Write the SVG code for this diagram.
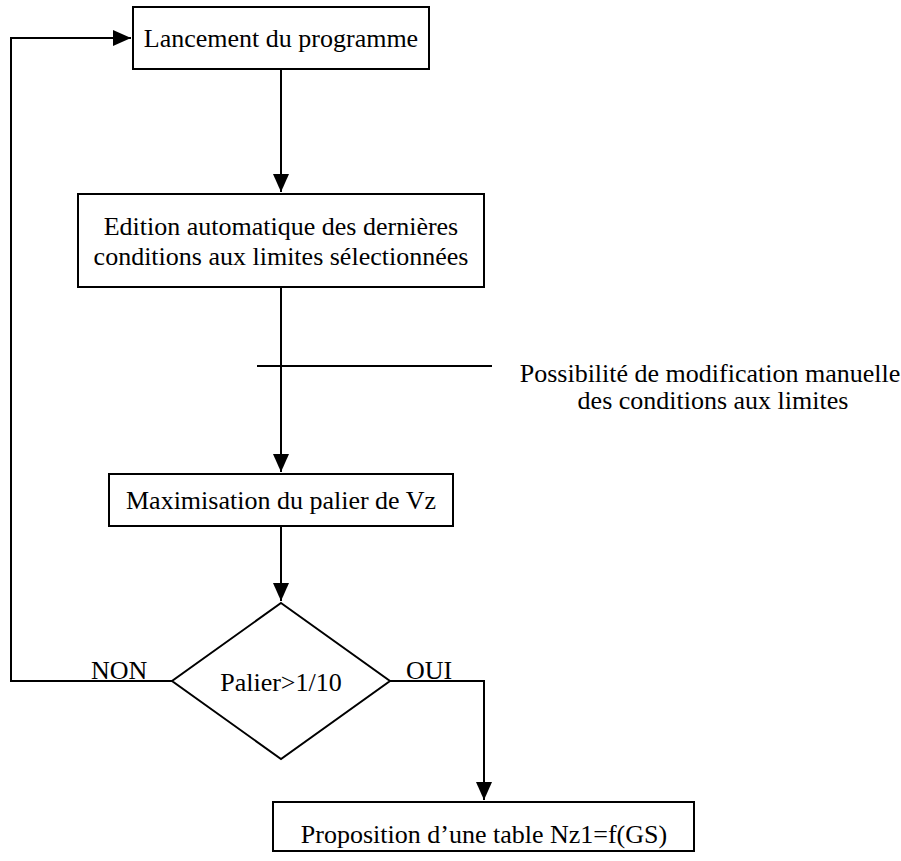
<svg xmlns="http://www.w3.org/2000/svg" width="901" height="861" viewBox="0 0 901 861">
<style>
  .box { fill: #fff; stroke: #000; stroke-width: 2; }
  .ln { fill: none; stroke: #000; stroke-width: 2; }
  text { font-family: "Liberation Serif", "Times New Roman", serif; font-size: 26px; fill: #000; }
  .c { text-anchor: middle; }
</style>
<defs>
  <marker id="arr" markerWidth="10" markerHeight="10" refX="9" refY="4" orient="auto" markerUnits="strokeWidth">
    <path d="M0,0 L9,4 L0,8 Z" fill="#000"/>
  </marker>
</defs>
<g id="connectors">
  <path class="ln" d="M172,681 H11 V38 H131" marker-end="url(#arr)"/>
  <path class="ln" d="M281,69 V192" marker-end="url(#arr)"/>
  <path class="ln" d="M281,287 V472" marker-end="url(#arr)"/>
  <path class="ln" d="M257,366 H492"/>
  <path class="ln" d="M281,526 V601" marker-end="url(#arr)"/>
  <path class="ln" d="M390,681 H484 V800" marker-end="url(#arr)"/>
  <text x="91" y="679">NON</text>
  <text x="406" y="679">OUI</text>
</g>
<g id="n1">
  <rect class="box" x="133" y="7" width="296" height="62"/>
  <text class="c" x="281" y="47">Lancement du programme</text>
</g>
<g id="n2">
  <rect class="box" x="78" y="194" width="406" height="93"/>
  <text class="c" x="281" y="235">Edition automatique des dernières</text>
  <text class="c" x="281" y="265">conditions aux limites sélectionnées</text>
</g>
<g id="note">
  <text class="c" x="710" y="382">Possibilité de modification manuelle</text>
  <text class="c" x="713" y="409">des conditions aux limites</text>
</g>
<g id="n3">
  <rect class="box" x="109" y="474" width="344" height="52"/>
  <text class="c" x="281" y="509">Maximisation du palier de Vz</text>
</g>
<g id="n4">
  <polygon class="box" points="281,603 390,681 281,759 172,681"/>
  <text class="c" x="281" y="691">Palier&gt;1/10</text>
</g>
<g id="n5">
  <rect class="box" x="273" y="802" width="421" height="49"/>
  <text class="c" x="484" y="843">Proposition d’une table Nz1=f(GS)</text>
</g>
</svg>
